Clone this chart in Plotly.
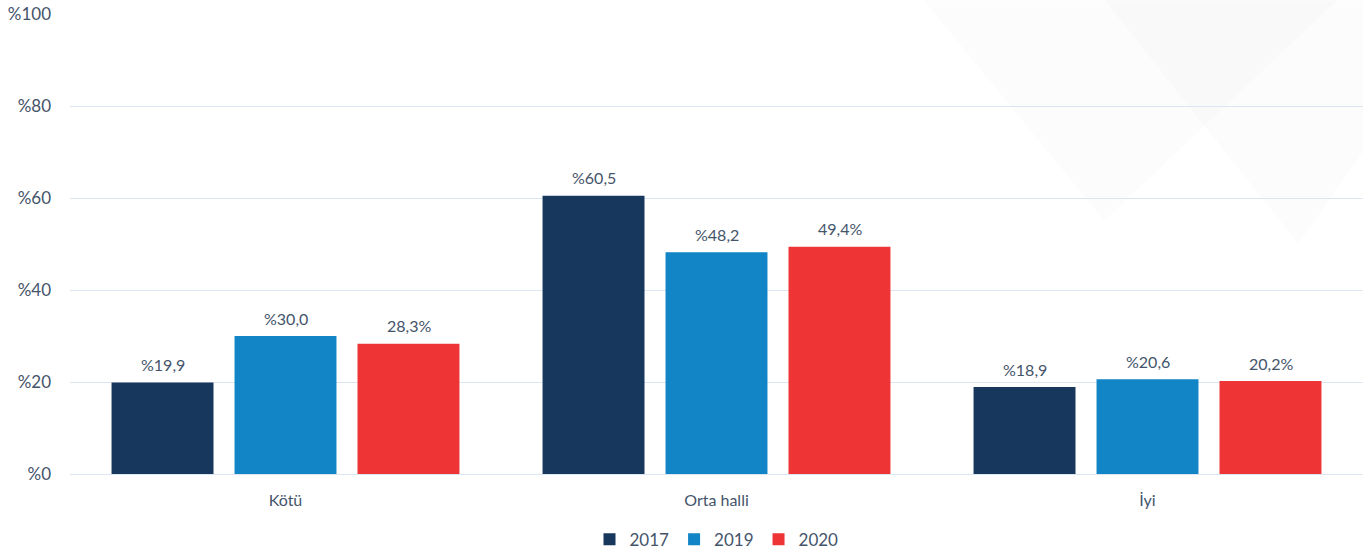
import plotly.graph_objects as go

# veriler
kategoriler = ["Kötü", "Orta halli", "İyi"]
yillar = ["2017", "2019", "2020"]
degerler_2017 = [19.9, 60.5, 18.9]
degerler_2019 = [30.0, 48.2, 20.6]
degerler_2020 = [28.3, 49.4, 20.2]
etiketler_2017 = ["%19,9", "%60,5", "%18,9"]
etiketler_2019 = ["%30,0", "%48,2", "%20,6"]
etiketler_2020 = ["28,3%", "49,4%", "20,2%"]
y_tikler = [0, 20, 40, 60, 80, 100]
y_tik_metin = ["%0", "%20", "%40", "%60", "%80", "%100"]

renkler = ["#18375C", "#1185C5", "#EE3434"]
yazi_rengi = "#44546A"
font_adi = "Lato, 'Open Sans', sans-serif"

fig = go.Figure()
seriler = list(zip(
    yillar,
    [degerler_2017, degerler_2019, degerler_2020],
    [etiketler_2017, etiketler_2019, etiketler_2020],
    renkler,
))
for i, (yil, vals, txt, renk) in enumerate(seriler):
    fig.add_trace(go.Bar(
        x=kategoriler, y=vals, name=yil,
        marker=dict(color=renk, line=dict(width=0)),
    ))
    # cubuk ustu etiketler (grup icindeki kaydirma ile)
    for kat, v, t in zip(kategoriler, vals, txt):
        fig.add_annotation(x=kat, y=v, text=t, showarrow=False,
                           xshift=(i - 1) * 123, yshift=18,
                           font=dict(size=16, color=yazi_rengi, family=font_adi))

# sag ustteki soluk arka plan desenleri
fig.add_shape(type="path", xref="paper", yref="paper",
              path="M 0.66,1.03 L 0.98,1.03 L 0.80,0.55 Z",
              fillcolor="rgba(0,0,0,0.011)", line=dict(width=0), layer="below")
fig.add_shape(type="path", xref="paper", yref="paper",
              path="M 0.80,1.03 L 1.0,1.03 L 1.0,0.70 L 0.95,0.50 Z",
              fillcolor="rgba(0,0,0,0.011)", line=dict(width=0), layer="below")

fig.update_layout(
    width=1370, height=554,
    margin=dict(l=70, r=7, t=14, b=80),
    paper_bgcolor="white", plot_bgcolor="rgba(0,0,0,0)",
    barmode="group", bargap=0.144, bargroupgap=0.171,
    font=dict(family=font_adi, size=15, color=yazi_rengi),
    showlegend=True,
    legend=dict(orientation="h", x=0.5, xanchor="center",
                yref="container", y=0.026, yanchor="middle",
                font=dict(size=17, color=yazi_rengi), itemwidth=30, traceorder="normal"),
)
fig.update_xaxes(showgrid=False, showline=False, ticks="", ticklabelstandoff=15,
                 automargin=False, tickfont=dict(size=16, color=yazi_rengi))
fig.update_yaxes(range=[0, 100], tickvals=y_tikler, ticktext=y_tik_metin,
                 showgrid=True, gridcolor="#DCE6F2", gridwidth=1, zeroline=True,
                 zerolinecolor="#DCE6F2", zerolinewidth=1, showline=False,
                 automargin=False, ticks="", ticklabelstandoff=18,
                 tickfont=dict(size=17, color=yazi_rengi))

# sayfa govdesinin varsayilan 8px boslugunu kaldir
fig.write_html("out.html", config={"displayModeBar": False},
               post_script="document.body.style.margin='0';")
